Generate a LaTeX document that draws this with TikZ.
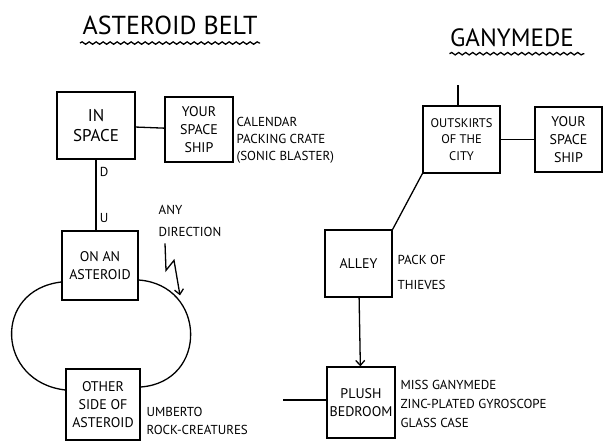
\documentclass[tikz,border=0pt]{standalone}
\usepackage{fontspec}
\setmainfont{PT Sans}
\usetikzlibrary{positioning,arrows.meta,decorations.pathmorphing}

\begin{document}
\begin{tikzpicture}[x=1pt,y=-1pt,line width=1.3pt,
>={Straight Barb[length=5pt,width=9pt]},
room/.style={draw, align=center, inner sep=0pt, font=\fontsize{14}{18}\selectfont},
note/.style={anchor=west, align=left, inner sep=0pt, font=\fontsize{13}{17}\selectfont},
heading/.style={inner sep=0pt, font=\fontsize{26}{26}\selectfont},
wavy/.style={decorate, decoration={snake, amplitude=1.2pt, segment length=7pt}}]
    \useasboundingbox (0,0) rectangle (604,441);

    \node [heading] (belt) at (170,25) {ASTEROID BELT};
    \draw [wavy] ([xshift=-2pt,yshift=-8pt]belt.south west) -- ([xshift=2pt,yshift=-8pt]belt.south east);
    \node [heading, font=\fontsize{25}{25}\selectfont] (gany) at (512,38) {GANYMEDE};
    \draw [wavy] ([yshift=-6pt]gany.south west) -- ([xshift=10pt,yshift=-6pt]gany.south east);

    \node [room, minimum width=78pt, minimum height=67pt, font=\fontsize{17}{20}\selectfont] (inspace) at (96,125.5) {IN\\SPACE};
    \node [room, minimum width=68pt, minimum height=65pt] (shipa) at (199,129.5) {YOUR\\SPACE\\SHIP};
    \node [note] (cargo) at (236,140) {CALENDAR\\PACKING CRATE\\(SONIC BLASTER)};
    \node [room, minimum width=76pt, minimum height=69pt] (onast) at (100,265.5) {ON AN\\ASTEROID};
    \node [note, font=\fontsize{13}{22}\selectfont] (anydir) at (158,221) {ANY\\DIRECTION};
    \node [room, minimum width=74pt, minimum height=71pt] (other) at (103,404.5) {OTHER\\SIDE OF\\ASTEROID};
    \node [note, font=\fontsize{13}{18}\selectfont] (rocks) at (146,421) {UMBERTO\\ROCK-CREATURES};

    \node [room, minimum width=77pt, minimum height=67pt, font=\fontsize{12.5}{16.5}\selectfont] (outskirts) at (461.5,139.5) {OUTSKIRTS\\OF THE\\CITY};
    \node [room, minimum width=67pt, minimum height=65pt] (shipg) at (568.5,139.5) {YOUR\\SPACE\\SHIP};
    \node [room, minimum width=67pt, minimum height=67pt] (alley) at (358.5,263.5) {ALLEY};
    \node [note, font=\fontsize{13}{25}\selectfont] (thieves) at (397,272) {PACK OF\\THIEVES};
    \node [room, minimum width=68pt, minimum height=71pt] (plush) at (361,402.5) {PLUSH\\BEDROOM};
    \node [note, font=\fontsize{13}{19}\selectfont] (prize) at (400,404) {MISS GANYMEDE\\ZINC-PLATED GYROSCOPE\\GLASS CASE};

    \coordinate [below right=6pt and 7pt of anydir.south west] (anytail);
    \coordinate (road) at (458,85);
    \coordinate (hall) at (283,400);

    \draw (inspace) -- (shipa);
    \draw (inspace.south) -- (inspace.south |- onast.north)
        node [pos=.18, right, font=\fontsize{13}{13}\selectfont] {D}
        node [pos=.82, right, font=\fontsize{13}{13}\selectfont] {U};
    \draw ([yshift=-16.5pt]onast.west) .. controls +(-69,8) and +(-69,-8) .. ([yshift=14.5pt]other.west);
    \draw ([yshift=-14.5pt]onast.east) .. controls +(68,5) and +(68,-5) .. ([yshift=17.5pt]other.east);
    \draw [->] (anytail) -- ++(1,27) -- ++(8,-10) -- ++(6,35);

    \draw (outskirts.north -| road) -- (road);
    \draw (outskirts) -- (shipg);
    \draw (outskirts.south west) -- (alley.north east);
    \draw [->] (alley) -- (plush);
    \draw (hall) -- (hall -| plush.west);
\end{tikzpicture}
\end{document}
